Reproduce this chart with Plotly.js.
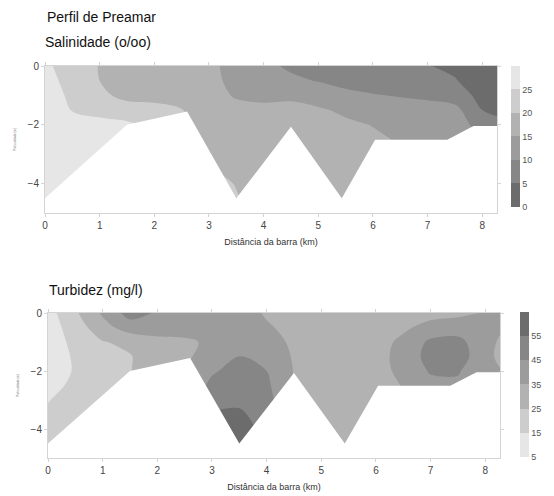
<!DOCTYPE html>
<html>
<head>
<meta charset="utf-8">
<script src="https://cdn.plot.ly/plotly-3.0.1.min.js"></script>
<style>
  html, body { margin: 0; padding: 0; background: #ffffff; }
  #chart { width: 554px; height: 496px; }
</style>
</head>
<body>
<div id="chart"></div>
<script>
// Stations along the channel (km from the bar) and sampling depths (m)
const distKm = [0, 0.5, 1, 1.5, 2, 2.5, 3, 3.5, 4, 4.5, 5, 5.5, 6, 6.5, 7, 7.5, 8, 8.27];
const depthM = [0, -0.5, -1, -1.5, -2, -2.5, -3, -3.5, -4, -4.5, -5];

// Salinity (o/oo), one column per station, surface to bottom
const salinity = [
  [26, 27, 28, 29, 29, 29, 29, 29, 29, 29, 29],
  [22.5, 23, 23.8, 24.8, 26.5, 27.5, 28, 28, 28, 28, 28],
  [19.8, 20, 21, 24, 26, 27, 27.5, 27.5, 27.5, 27.5, 27.5],
  [17, 17.5, 18.8, 22, 26, 26, 26, 26, 26, 26, 26],
  [16.5, 17, 18.5, 21.5, 23, 23, 23, 23, 23, 23, 23],
  [16, 16.5, 17.5, 20.2, 21, 21, 21, 21, 21, 21, 21],
  [16.3, 16.5, 17, 17.5, 18, 18.5, 19, 20.2, 21.5, 21.5, 21.5],
  [13, 13.5, 14.5, 16.5, 17, 17.5, 18, 19, 19.8, 20.3, 21],
  [11, 12, 14, 16, 16.5, 17, 17.5, 18, 18.5, 18, 18],
  [9.3, 10.8, 14, 16.5, 17, 17.5, 18, 18, 18, 18, 18],
  [8.5, 9.8, 12.5, 15.7, 16.5, 17, 17.5, 18, 18.5, 19, 19],
  [8, 9, 10.8, 14, 16, 16.5, 17, 17.5, 18, 18.5, 18.5],
  [7.5, 8.5, 10.2, 12.5, 14.8, 16, 16.5, 17, 17, 17, 17],
  [7, 8, 9.8, 11.5, 13, 14.5, 15.5, 16, 16, 16, 16],
  [5.2, 6.5, 9.5, 11, 12, 13, 14, 14, 14, 14, 14],
  [4, 5.3, 7.5, 11.5, 13, 13, 13, 13, 13, 13, 13],
  [2, 2.5, 3.5, 5, 7.5, 9.8, 11, 11, 11, 11, 11],
  [1.5, 2, 3, 4.3, 6, 8, 9, 9, 9, 9, 9]
];

// Turbidity (mg/l), one column per station, surface to bottom
const turbidity = [
  [11, 10, 9, 8.5, 9, 12, 14.6, 16.5, 18, 19, 19],
  [23.5, 20, 18, 16.5, 16, 17, 19, 20, 20, 20, 20],
  [36.5, 31, 24.5, 22, 21, 21, 21, 21, 21, 21, 21],
  [49, 40, 27, 24.5, 24.5, 24, 23, 22, 22, 22, 22],
  [44, 39, 32.5, 30, 32, 33, 33, 33, 33, 33, 33],
  [42, 40, 33, 33, 36, 38, 40, 42, 44, 46, 48],
  [41, 40, 37, 40, 44, 47, 50, 55.5, 57, 58, 60],
  [39, 38.5, 40, 45.3, 48, 50, 53, 56.5, 58, 60, 61],
  [34, 36, 38.5, 41, 45, 47, 49, 51, 53, 54, 54],
  [31, 32.5, 33.5, 34.2, 34.6, 34, 34, 34, 34, 34, 34],
  [30, 30.5, 31, 31.5, 32, 32, 32, 32, 32, 32, 32],
  [29.5, 30, 30.5, 31, 31.5, 31.5, 31.5, 31.5, 31.5, 31.5, 31.5],
  [29, 30, 31.5, 32, 31.5, 31, 31, 31, 31, 31, 31],
  [31, 33.5, 37, 38, 37.5, 35.5, 34.5, 34.5, 34.5, 34.5, 34.5],
  [32, 38, 47, 49, 46, 42, 40, 40, 40, 40, 40],
  [33, 40, 48, 50, 46, 43, 42, 42, 42, 42, 42],
  [35.5, 37, 38, 38, 37, 36, 36, 36, 36, 36, 36],
  [37, 36, 34, 33, 35.5, 36, 36, 36, 36, 36, 36]
];

// Channel bottom profile (bathymetry)
const bottomKm = [0, 1.5, 2.6, 3.5, 4.5, 5.43, 6.04, 7.36, 7.84, 8.3];
const bottomM  = [-4.5, -2.0, -1.55, -4.5, -2.07, -4.5, -2.51, -2.51, -2.04, -2.04];

// Contour classes and colour bar ticks
const salLevels = [0, 5, 10, 15, 20, 25, 30];
const turbLevels = [5, 15, 25, 35, 45, 55, 65];
const salTicks = [0, 5, 10, 15, 20, 25];
const turbTicks = [5, 15, 25, 35, 45, 55];

const grays = ['#6c6c6c', '#868686', '#9c9c9c', '#b2b2b2', '#cdcdcd', '#e6e6e6'];
const darkToLight = grays.map((c, i) => [i / (grays.length - 1), c]);
const lightToDark = grays.slice().reverse().map((c, i) => [i / (grays.length - 1), c]);

// Stepped colour scale so every class shows as a solid block in the colour bar
function stepped(colors) {
  const n = colors.length, out = [];
  colors.forEach((c, i) => { out.push([i / n, c]); out.push([(i + 1) / n, c]); });
  return out;
}

const FONT = 'Liberation Sans, Arial, sans-serif';
const W = 554, H = 496;
const px = v => v / W;
const py = v => 1 - v / H;

// White polygon hiding everything below the channel bottom
function bottomMask(xa, ya) {
  const floor = -5.2;
  return {
    type: 'scatter', mode: 'lines', xaxis: xa, yaxis: ya,
    x: bottomKm.concat([bottomKm[bottomKm.length - 1], bottomKm[0]]),
    y: bottomM.concat([floor, floor]),
    fill: 'toself', fillcolor: '#ffffff', line: {width: 0},
    hoverinfo: 'skip', showlegend: false
  };
}

// Colour-bar-only trace (no visible points)
function classBar(levels, colors, ticks, xa, ya, barX, barTop, barBottom) {
  return {
    type: 'scatter', mode: 'markers', xaxis: xa, yaxis: ya,
    x: levels.map(() => null), y: levels.map(() => null),
    marker: {
      color: levels, cmin: levels[0], cmax: levels[levels.length - 1],
      colorscale: stepped(colors), showscale: true, size: 0,
      colorbar: {
        x: px(barX), xanchor: 'left', y: py(barBottom), yanchor: 'bottom',
        len: (barBottom - barTop) / H, lenmode: 'fraction',
        thickness: 9, xpad: 0, ypad: 0, outlinewidth: 0,
        tickvals: ticks, ticks: '',
        tickfont: {family: FONT, size: 9, color: '#555'}
      }
    },
    hoverinfo: 'skip', showlegend: false
  };
}

const traces = [
  {
    type: 'contour', x: distKm, y: depthM, z: salinity, transpose: true,
    xaxis: 'x', yaxis: 'y', showscale: false,
    colorscale: darkToLight,
    contours: {start: salLevels[1], end: salLevels[5], size: 5, coloring: 'fill', showlines: false},
    line: {width: 0, smoothing: 1}
  },
  bottomMask('x', 'y'),
  classBar(salLevels, grays, salTicks, 'x', 'y', 511, 66, 207),
  {
    type: 'contour', x: distKm, y: depthM, z: turbidity, transpose: true,
    xaxis: 'x2', yaxis: 'y2', showscale: false,
    colorscale: lightToDark,
    contours: {start: turbLevels[1], end: turbLevels[5], size: 10, coloring: 'fill', showlines: false},
    line: {width: 0, smoothing: 1}
  },
  bottomMask('x2', 'y2'),
  classBar(turbLevels, grays.slice().reverse(), turbTicks, 'x2', 'y2', 520, 312, 457)
];

const xAxisBase = {
  range: [0, 8.27], dtick: 1, tick0: 0, showgrid: false, zeroline: false,
  showline: true, linecolor: '#d4d4d4', linewidth: 1, mirror: 'ticks',
  ticks: 'outside', ticklen: 3, tickcolor: '#d4d4d4',
  tickfont: {family: FONT, size: 10, color: '#444'}, automargin: false,
  title: {text: 'Distância da barra (km)', font: {family: FONT, size: 9, color: '#333'}, standoff: 8}
};
const yAxisBase = {
  range: [-5, 0], tickvals: [0, -2, -4], showgrid: false, zeroline: false,
  showline: true, linecolor: '#d4d4d4', linewidth: 1, mirror: 'ticks',
  ticks: 'outside', ticklen: 3, tickcolor: '#d4d4d4',
  tickfont: {family: FONT, size: 10, color: '#444'}, automargin: false,
  title: {text: 'Profundidade (m)', font: {family: FONT, size: 3, color: '#888'}, standoff: 11}
};

const layout = {
  width: W, height: H,
  margin: {l: 0, r: 0, t: 0, b: 0},
  paper_bgcolor: '#ffffff', plot_bgcolor: '#ffffff',
  showlegend: false,
  font: {family: FONT},
  xaxis: Object.assign({}, xAxisBase, {domain: [px(45), px(497)], anchor: 'y'}),
  yaxis: Object.assign({}, yAxisBase, {domain: [py(213), py(66)], anchor: 'x'}),
  xaxis2: Object.assign({}, xAxisBase, {domain: [px(48), px(500)], anchor: 'y2'}),
  yaxis2: Object.assign({}, yAxisBase, {domain: [py(458), py(313)], anchor: 'x2'}),
  annotations: [
    {text: 'Perfil de Preamar', x: px(45), y: py(17), xref: 'paper', yref: 'paper',
     xanchor: 'left', yanchor: 'middle', showarrow: false, font: {family: FONT, size: 14, color: '#111'}},
    {text: 'Salinidade (o/oo)', x: px(43), y: py(42), xref: 'paper', yref: 'paper',
     xanchor: 'left', yanchor: 'middle', showarrow: false, font: {family: FONT, size: 14, color: '#111'}},
    {text: 'Turbidez (mg/l)', x: px(47), y: py(290), xref: 'paper', yref: 'paper',
     xanchor: 'left', yanchor: 'middle', showarrow: false, font: {family: FONT, size: 14, color: '#111'}}
  ]
};

Plotly.newPlot('chart', traces, layout, {staticPlot: true, displayModeBar: false});
</script>
</body>
</html>
